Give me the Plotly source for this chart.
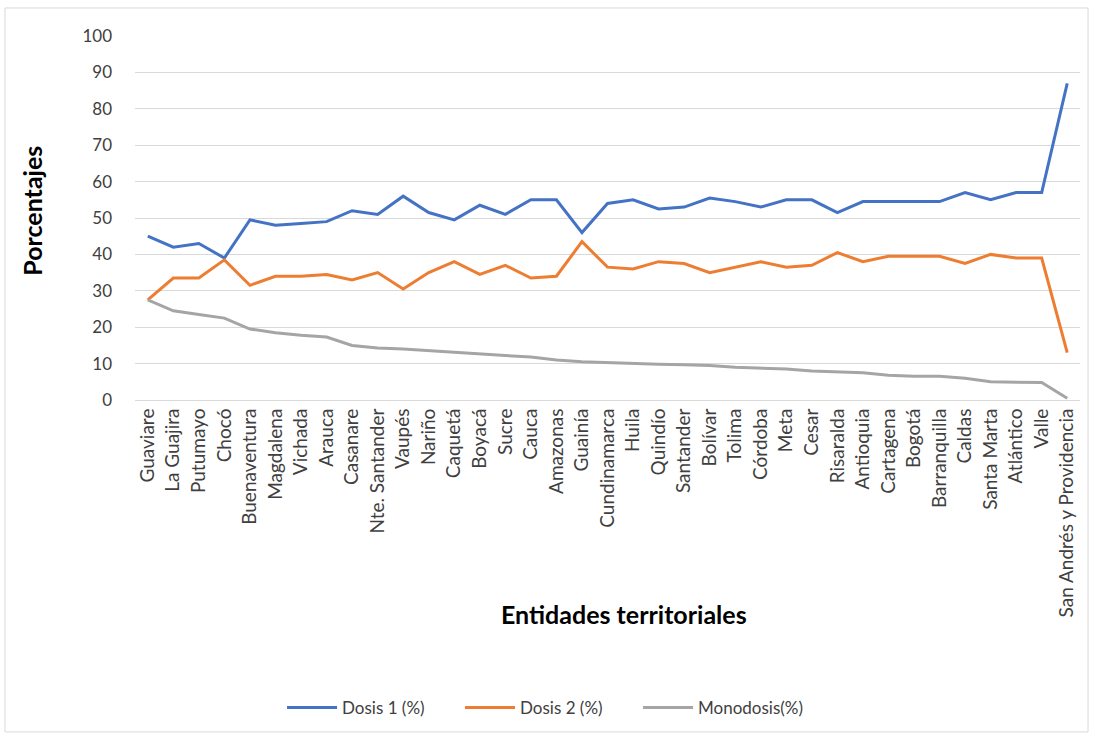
import plotly.graph_objects as go

categories = ["Guaviare", "La Guajira", "Putumayo", "Chocó", "Buenaventura", "Magdalena",
              "Vichada", "Arauca", "Casanare", "Nte. Santander", "Vaupés", "Nariño",
              "Caquetá", "Boyacá", "Sucre", "Cauca", "Amazonas", "Guainía", "Cundinamarca",
              "Huila", "Quindío", "Santander", "Bolívar", "Tolima", "Córdoba", "Meta",
              "Cesar", "Risaralda", "Antioquia", "Cartagena", "Bogotá", "Barranquilla",
              "Caldas", "Santa Marta", "Atlántico", "Valle", "San Andrés y Providencia"]

dosis1 = [45, 42, 43, 39, 49.5, 48, 48.5, 49, 52, 51, 56, 51.5, 49.5, 53.5, 51, 55, 55,
          46, 54, 55, 52.5, 53, 55.5, 54.5, 53, 55, 55, 51.5, 54.5, 54.5, 54.5, 54.5,
          57, 55, 57, 57, 87]
dosis2 = [27.5, 33.5, 33.5, 38.5, 31.5, 34, 34, 34.5, 33, 35, 30.5, 35, 38, 34.5, 37,
          33.5, 34, 43.5, 36.5, 36, 38, 37.5, 35, 36.5, 38, 36.5, 37, 40.5, 38, 39.5,
          39.5, 39.5, 37.5, 40, 39, 39, 13]
monodosis = [27.5, 24.5, 23.5, 22.5, 19.5, 18.5, 17.8, 17.3, 15, 14.3, 14, 13.5, 13, 12.5,
             12.2, 11.8, 11, 10.5, 10.2, 10, 9.8, 9.7, 9.5, 9, 8.8, 8.5, 8, 7.8, 7.5, 6.8,
             6.5, 6.5, 6, 5, 4.8, 4.8, 0.5]

series = [("Dosis 1 (%)", dosis1, "#4472C4"),
          ("Dosis 2 (%)", dosis2, "#ED7D31"),
          ("Monodosis(%)", monodosis, "#A5A5A5")]

FONT = "Lato, 'Open Sans', sans-serif"

fig = go.Figure()
for name, vals, col in series:
    fig.add_trace(go.Scatter(x=categories, y=vals, mode="lines", name=name,
                             line=dict(color=col, width=3)))

fig.update_layout(
    width=1095, height=740,
    margin=dict(l=135, r=15, t=36, b=340),
    paper_bgcolor="white", plot_bgcolor="white",
    font=dict(family=FONT, size=12, color="#404040"),
    showlegend=True,
    legend=dict(orientation="h", x=0.1556, xanchor="left", y=-0.846, yanchor="middle",
                font=dict(size=17, color="#404040"), itemwidth=50,
                entrywidth=113, entrywidthmode="pixels"),
    xaxis=dict(type="category", range=[-0.5, 36.5], tickangle=-90,
               tickfont=dict(size=19, color="#404040"), showgrid=False,
               showline=True, linecolor="#d9d9d9", linewidth=1, ticks="", ticklen=0),
    yaxis=dict(range=[0, 100], dtick=10, showgrid=True, gridcolor="#d9d9d9",
               gridwidth=1, zeroline=False, showline=False, ticks="",
               tickfont=dict(size=17, color="#404040"), ticklabelstandoff=22),
    shapes=[dict(type="rect", xref="paper", yref="paper", x0=-0.1376, x1=1.0085,
                 y0=-0.912, y1=1.077, line=dict(color="#d9d9d9", width=1))],
    annotations=[
        dict(text="<b>Porcentajes</b>", xref="paper", yref="paper", x=-0.109, y=0.52,
             textangle=-90, showarrow=False, font=dict(size=25, color="#000000"),
             xanchor="center", yanchor="middle"),
        dict(text="<b>Entidades territoriales</b>", xref="paper", yref="paper",
             x=0.5175, y=-0.588, showarrow=False, font=dict(size=25, color="#000000"),
             xanchor="center", yanchor="middle"),
    ],
)

fig.write_html("out.html")
